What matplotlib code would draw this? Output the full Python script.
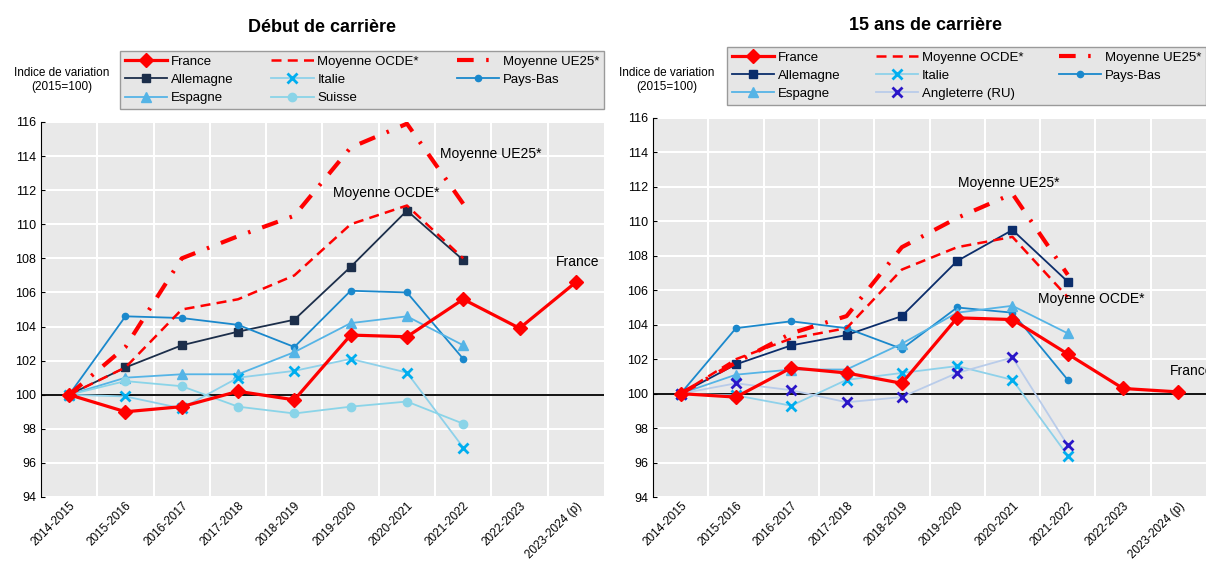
import matplotlib
matplotlib.use("Agg")
import matplotlib.pyplot as plt

plt.rcParams['font.family'] = ['Liberation Sans', 'DejaVu Sans']

categories = ["2014-2015", "2015-2016", "2016-2017", "2017-2018", "2018-2019",
              "2019-2020", "2020-2021", "2021-2022", "2022-2023", "2023-2024 (p)"]
yticks = [94, 96, 98, 100, 102, 104, 106, 108, 110, 112, 114, 116]

# Début de carrière
d_france = [100, 99.0, 99.3, 100.2, 99.7, 103.5, 103.4, 105.6, 103.9, 106.6]
d_ocde = [100, 101.6, 105.0, 105.6, 107.0, 110.0, 111.1, 108.0]
d_ue25 = [100, 102.8, 108.0, 109.3, 110.5, 114.5, 115.9, 111.2]
d_allemagne = [100, 101.6, 102.9, 103.7, 104.4, 107.5, 110.8, 107.9]
d_italie = [100, 99.9, 99.2, 101.0, 101.4, 102.1, 101.3, 96.9]
d_paysbas = [100, 104.6, 104.5, 104.1, 102.8, 106.1, 106.0, 102.1]
d_espagne = [100, 101.0, 101.2, 101.2, 102.5, 104.2, 104.6, 102.9]
d_suisse = [100, 100.8, 100.5, 99.3, 98.9, 99.3, 99.6, 98.3]

# 15 ans de carrière
q_france = [100, 99.8, 101.5, 101.2, 100.6, 104.4, 104.3, 102.3, 100.3, 100.1]
q_ocde = [100, 102.0, 103.2, 103.8, 107.2, 108.5, 109.1, 105.6]
q_ue25 = [100, 101.8, 103.5, 104.5, 108.5, 110.2, 111.6, 106.9]
q_allemagne = [100, 101.7, 102.8, 103.4, 104.5, 107.7, 109.5, 106.5]
q_italie = [100, 99.9, 99.3, 100.8, 101.2, 101.6, 100.8, 96.4]
q_paysbas = [100, 103.8, 104.2, 103.8, 102.6, 105.0, 104.7, 100.8]
q_espagne = [100, 101.1, 101.4, 101.4, 102.9, 104.7, 105.1, 103.5]
q_angleterre = [100, 100.6, 100.2, 99.5, 99.8, 101.2, 102.1, 97.0]

RED = "#FF0000"
NAVY_L = "#1C2E4A"
NAVY_R = "#0B2D6B"
IT_LINE = "#8ED1EA"
IT_MARK = "#00AEEF"
PB = "#1A88CC"
ESP = "#55B4E6"
SUI = "#8AD4E8"
ANG_LINE = "#B9CCEA"
ANG_MARK = "#2A16C8"

fig = plt.figure(figsize=(12.06, 5.63), dpi=100)
ax1 = fig.add_axes([41/1206, 1-497/563, 563/1206, 375/563])
ax2 = fig.add_axes([653/1206, 1-497/563, 553/1206, 379/563])


def style(ax):
    ax.set_facecolor("#E9E9E9")
    ax.set_xlim(-0.5, len(categories)-0.5)
    ax.set_ylim(94, 116)
    ax.set_yticks(yticks)
    ax.set_xticks(range(len(categories)))
    ax.set_xticklabels(categories, rotation=45, ha="right", rotation_mode="anchor", fontsize=8.5)
    ax.set_xticks([i+0.5 for i in range(len(categories)-1)], minor=True)
    ax.tick_params(axis="x", which="both", length=0, pad=2)
    ax.tick_params(axis="y", labelsize=9, length=3, direction="in")
    ax.grid(True, which="major", axis="y", color="white", lw=1.5)
    ax.grid(True, which="minor", axis="x", color="white", lw=1.5)
    ax.set_axisbelow(True)
    for s in ["top", "right", "bottom"]:
        ax.spines[s].set_visible(False)
    ax.spines["left"].set_color("black")
    ax.axhline(100, color="black", lw=1.3, zorder=1.5)


def draw(ax, france, ocde, ue25, allem, italie, pb, esp, other, other_label, other_line, other_mark, other_marker, navy):
    x8 = list(range(len(ocde)))
    xf = list(range(len(france)))
    h = {}
    h['Allemagne'], = ax.plot(x8, allem, color=navy, lw=1.3, marker="s", ms=6, label="Allemagne")
    h['Pays-Bas'], = ax.plot(x8, pb, color=PB, lw=1.3, marker="o", ms=4.5, label="Pays-Bas")
    h['Espagne'], = ax.plot(x8, esp, color=ESP, lw=1.3, marker="^", ms=7, label="Espagne")
    h['Italie'], = ax.plot(x8, italie, color=IT_LINE, lw=1.3, marker="x", ms=7, mew=2,
                           mec=IT_MARK, label="Italie")
    if other_marker == "o":
        h[other_label], = ax.plot(x8, other, color=other_line, lw=1.3, marker="o", ms=6,
                                  mfc=other_mark, mec=other_mark, label=other_label)
    else:
        h[other_label], = ax.plot(x8, other, color=other_line, lw=1.3, marker="x", ms=7, mew=2,
                                  mec=other_mark, label=other_label)
    h['Moyenne OCDE*'], = ax.plot(x8, ocde, color=RED, lw=1.8, ls=(0, (4, 2.5)), label="Moyenne OCDE*")
    h['Moyenne UE25*'], = ax.plot(x8, ue25, color=RED, lw=3, ls=(0, (4, 3, 0.6, 3)), label="Moyenne UE25*")
    h['France'], = ax.plot(xf, france, color=RED, lw=2.3, marker="D", ms=7, label="France", zorder=5)
    order = ['France', 'Allemagne', 'Espagne', 'Moyenne OCDE*', 'Italie', other_label,
             'Moyenne UE25*', 'Pays-Bas']
    return [h[k] for k in order]


style(ax1)
style(ax2)
hl = draw(ax1, d_france, d_ocde, d_ue25, d_allemagne, d_italie, d_paysbas, d_espagne,
          d_suisse, "Suisse", SUI, SUI, "o", NAVY_L)
hr = draw(ax2, q_france, q_ocde, q_ue25, q_allemagne, q_italie, q_paysbas, q_espagne,
          q_angleterre, "Angleterre (RU)", ANG_LINE, ANG_MARK, "x", NAVY_R)

for ax, handles, x0 in [(ax1, hl, (120-41)/563), (ax2, hr, (727-653)/553)]:
    leg = ax.legend(handles, [hh.get_label() for hh in handles], ncol=3,
                    loc="lower left", bbox_to_anchor=(x0, 1.035, 1-x0, 0.17), mode="expand",
                    fontsize=9.5, handlelength=3.2, handletextpad=0.3, borderaxespad=0,
                    labelspacing=0.45, columnspacing=1.0, fancybox=False, framealpha=1,
                    borderpad=0.35)
    leg.get_frame().set_facecolor("#E6E6E6")
    leg.get_frame().set_edgecolor("#9A9A9A")
    leg.set_clip_on(False)

fig.text(62/1206, 1-80/563, "Indice de variation\n(2015=100)", ha="center", va="center", fontsize=8.5)
fig.text(667/1206, 1-80/563, "Indice de variation\n(2015=100)", ha="center", va="center", fontsize=8.5)

fig.text(322/1206, 1-27/563, "Début de carrière", ha="center", va="center", fontsize=13, fontweight="bold")
fig.text(926/1206, 1-25/563, "15 ans de carrière", ha="center", va="center", fontsize=13, fontweight="bold")

ax1.text(7.49, 114.1, "Moyenne UE25*", ha="center", va="center", fontsize=10)
ax1.text(5.63, 111.85, "Moyenne OCDE*", ha="center", va="center", fontsize=10)
ax1.text(9.03, 107.8, "France", ha="center", va="center", fontsize=10)
ax2.text(5.94, 112.2, "Moyenne UE25*", ha="center", va="center", fontsize=10)
ax2.text(7.43, 105.5, "Moyenne OCDE*", ha="center", va="center", fontsize=10)
t = ax2.text(8.84, 101.3, "France", ha="left", va="center", fontsize=10)
t.set_clip_on(False)

fig.savefig("out.png", dpi=100)
